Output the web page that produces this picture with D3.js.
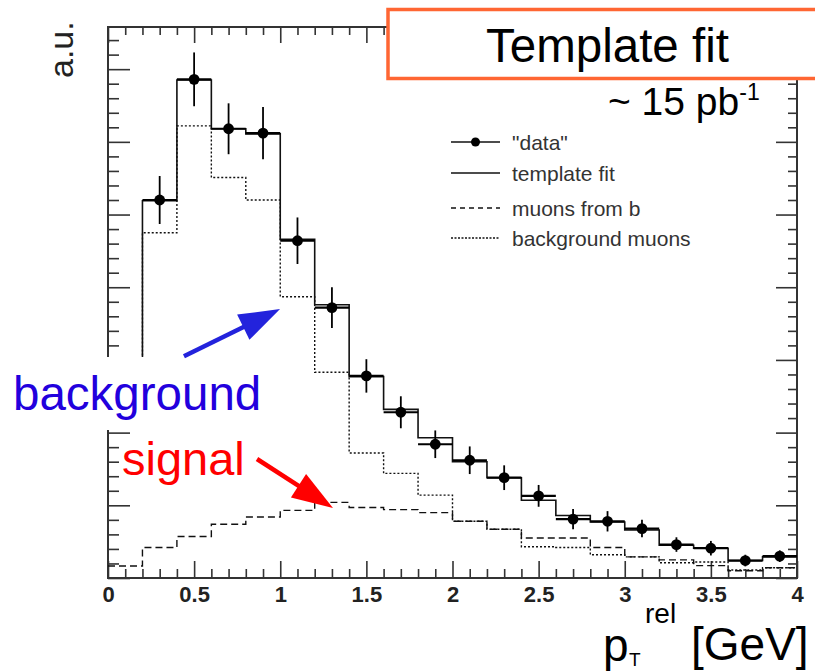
<!DOCTYPE html>
<html><head><meta charset="utf-8">
<script src="https://cdn.jsdelivr.net/npm/d3@7/dist/d3.min.js"></script>
<style>body{margin:0;background:#fff} svg{display:block}</style>
</head><body>
<svg id="c" width="815" height="671"></svg>
<script>
// ---- data (arbitrary units, bin width 0.2 GeV) ----
const binLow = [0.0,0.2,0.4,0.6,0.8,1.0,1.2,1.4,1.6,1.8,2.0,2.2,2.4,2.6,2.8,3.0,3.2,3.4,3.6,3.8];
const binWidth = 0.2;
const dataVals = [null,5.20,6.86,6.18,6.12,4.64,3.72,2.78,2.28,1.84,1.62,1.38,1.13,0.81,0.78,0.68,0.46,0.41,0.24,0.30];
const dataErr  = [null,0.33,0.37,0.35,0.36,0.32,0.28,0.23,0.22,0.19,0.19,0.17,0.15,0.14,0.14,0.12,0.10,0.10,0.08,0.08];
const fitVals  = [2.52,5.19,6.85,6.18,6.11,4.66,3.76,2.77,2.32,1.93,1.60,1.38,1.07,0.86,0.77,0.66,0.45,0.41,0.24,0.29];
const signalVals = [0.165,0.42,0.57,0.74,0.84,0.93,1.04,0.97,0.94,0.90,0.78,0.67,0.55,0.55,0.42,0.29,0.25,0.17,0.10,0.14];
const bkgVals    = [2.38,4.75,6.22,5.51,5.20,3.87,2.83,1.72,1.44,1.14,0.78,0.67,0.43,0.42,0.32,0.29,0.21,0.22,0.11,0.14];
const xMajorTicks = [0,0.5,1,1.5,2,2.5,3,3.5,4];
const xTickLabels = ["0","0.5","1","1.5","2","2.5","3","3.5","4"];
const yMajorTicks = [0,1,2,3,4,5,6,7];
const legendLabels = ['"data"','template fit','muons from b','background muons'];
// annotation arrows in data coordinates: [tailX, tailY, tipX, tipY]
const arrowBkg = [0.441,3.05,0.999,3.70];
const arrowSig = [0.865,1.637,1.306,0.963];

const svg = d3.select("#c");
const FONT = "'Liberation Sans', Arial, Helvetica, sans-serif";
const x = d3.scaleLinear().domain([0,4]).range([108,797]);
const y = d3.scaleLinear().domain([0,7.58]).range([578,27]);

// frame
svg.append("rect").attr("x",x(0)).attr("y",y(7.58)).attr("width",x(4)-x(0)).attr("height",y(0)-y(7.58))
  .attr("fill","none").attr("stroke","#333").attr("stroke-width",2);

const minorX = d3.range(0,4.001,0.1).filter(v=>Math.abs(v*2-Math.round(v*2))>1e-6);
const minorY = d3.range(0,7.58,0.2).filter(v=>Math.abs(v-Math.round(v))>1e-6);
function axisG(axis, tx, ty){
  const g = svg.append("g").attr("transform",`translate(${tx},${ty})`).call(axis);
  g.select(".domain").remove();
  g.selectAll("line").attr("stroke","#333").attr("stroke-width",1.6);
  return g;
}
// bottom ticks (upward)
axisG(d3.axisTop(x).tickValues(xMajorTicks).tickSize(17).tickFormat(""),0,y(0));
axisG(d3.axisTop(x).tickValues(minorX).tickSize(9).tickFormat(""),0,y(0));
// top ticks (downward)
axisG(d3.axisBottom(x).tickValues(xMajorTicks).tickSize(16).tickFormat(""),0,y(7.58));
axisG(d3.axisBottom(x).tickValues(minorX).tickSize(8).tickFormat(""),0,y(7.58));
// left ticks (rightward)
axisG(d3.axisRight(y).tickValues(yMajorTicks).tickSize(22).tickFormat(""),x(0),0);
axisG(d3.axisRight(y).tickValues(minorY).tickSize(11).tickFormat(""),x(0),0);
// right ticks (leftward)
axisG(d3.axisLeft(y).tickValues(yMajorTicks).tickSize(21).tickFormat(""),x(4),0);
axisG(d3.axisLeft(y).tickValues(minorY).tickSize(9).tickFormat(""),x(4),0);
// x tick labels
const lab = svg.append("g").attr("transform",`translate(0,${y(0)})`)
  .call(d3.axisBottom(x).tickValues(xMajorTicks).tickSize(0).tickPadding(8).tickFormat((d,i)=>xTickLabels[i]));
lab.select(".domain").remove();
lab.selectAll("text").attr("font-family",FONT).attr("font-weight","bold").attr("font-size",22).attr("fill","#222");

// histograms
function stepPts(vals){
  const pts=[];
  vals.forEach((v,i)=>{ if(v==null) return; pts.push([binLow[i],v],[binLow[i]+binWidth,v]); });
  return pts;
}
const line = d3.line().x(d=>x(d[0])).y(d=>y(d[1]));
svg.append("path").attr("d",line(stepPts(signalVals))).attr("fill","none").attr("stroke","#111")
  .attr("stroke-width",1.4).attr("stroke-dasharray","7,4");
svg.append("path").attr("d",line(stepPts(bkgVals))).attr("fill","none").attr("stroke","#111")
  .attr("stroke-width",1.4).attr("stroke-dasharray","2,2");
svg.append("path").attr("d",line(stepPts(fitVals))).attr("fill","none").attr("stroke","#111")
  .attr("stroke-width",1.6);

// data points
const pts = binLow.map((b,i)=>({b, v:dataVals[i], e:dataErr[i]})).filter(d=>d.v!=null);
const dg = svg.append("g");
dg.selectAll("line.h").data(pts).join("line").attr("class","h")
  .attr("x1",d=>x(d.b)).attr("x2",d=>x(d.b+binWidth)).attr("y1",d=>y(d.v)).attr("y2",d=>y(d.v))
  .attr("stroke","#000").attr("stroke-width",2.2);
dg.selectAll("line.v").data(pts).join("line").attr("class","v")
  .attr("x1",d=>x(d.b+binWidth/2)).attr("x2",d=>x(d.b+binWidth/2)).attr("y1",d=>y(d.v-d.e)).attr("y2",d=>y(d.v+d.e))
  .attr("stroke","#000").attr("stroke-width",1.8);
dg.selectAll("circle").data(pts).join("circle")
  .attr("cx",d=>x(d.b+binWidth/2)).attr("cy",d=>y(d.v)).attr("r",5.4).attr("fill","#000");

// y axis title
svg.append("text").attr("transform","translate(73,78) rotate(-90)").attr("font-family",FONT)
  .attr("font-size",34).attr("fill","#222").text("a.u.");

// legend
const lgY = [142,173,208,238];
const lgStyles = [null,null,"5,4","2,1.5"];
legendLabels.forEach((t,i)=>{
  svg.append("line").attr("x1",451).attr("x2",500).attr("y1",lgY[i]).attr("y2",lgY[i])
    .attr("stroke","#111").attr("stroke-width",1.4).attr("stroke-dasharray",lgStyles[i]);
  if(i===0) svg.append("circle").attr("cx",475.5).attr("cy",lgY[i]).attr("r",4.5).attr("fill","#000");
  svg.append("text").attr("x",512).attr("y",lgY[i]+7.5).attr("font-family",FONT).attr("font-size",21)
    .attr("fill","#333").text(t);
});

// white label box covering part of the plot
svg.append("rect").attr("x",0).attr("y",357).attr("width",272).attr("height",73).attr("fill","#fff");

// annotations
function arrow(a,color){
  const x0=x(a[0]), y0=y(a[1]), x1=x(a[2]), y1=y(a[3]);
  const dx=x1-x0, dy=y1-y0, L=Math.hypot(dx,dy), ux=dx/L, uy=dy/L;
  const hl=41, hw=14;
  const bx=x1-ux*hl, by=y1-uy*hl;
  svg.append("line").attr("x1",x0).attr("y1",y0).attr("x2",bx+ux*2).attr("y2",by+uy*2)
    .attr("stroke",color).attr("stroke-width",4.5);
  svg.append("path").attr("d",`M${x1},${y1}L${bx-uy*hw},${by+ux*hw}L${bx+uy*hw},${by-ux*hw}Z`).attr("fill",color);
}
arrow(arrowBkg,"#2323dc");
arrow(arrowSig,"#ff0000");
svg.append("text").attr("x",13).attr("y",410).attr("font-family",FONT).attr("font-size",47.5)
  .attr("fill","#2200dd").text("background");
svg.append("text").attr("x",122).attr("y",475).attr("font-family",FONT).attr("font-size",47)
  .attr("fill","#ff0000").text("signal");

// title box
svg.append("rect").attr("x",388).attr("y",9.5).attr("width",440).attr("height",69)
  .attr("fill","#fff").attr("stroke","#ff6633").attr("stroke-width",3.5);
svg.append("text").attr("x",607.5).attr("y",62).attr("text-anchor","middle").attr("font-family",FONT)
  .attr("font-size",47.5).attr("fill","#000").text("Template fit");

// luminosity
const lum = svg.append("text").attr("x",608).attr("y",115).attr("font-family",FONT).attr("font-size",39).attr("fill","#000");
lum.append("tspan").text("~ 15 pb");
lum.append("tspan").attr("dy",-15).attr("font-size",23).text("-1");

// x axis title
const xt = svg.append("text").attr("font-family",FONT).attr("fill","#000");
xt.append("tspan").attr("x",603).attr("y",661).attr("font-size",46).text("p");
xt.append("tspan").attr("x",629).attr("y",666).attr("font-size",19).text("T");
xt.append("tspan").attr("x",645).attr("y",623).attr("font-size",28).text("rel");
xt.append("tspan").attr("x",691).attr("y",660).attr("font-size",46).text("[GeV]");
</script>
</body></html>
